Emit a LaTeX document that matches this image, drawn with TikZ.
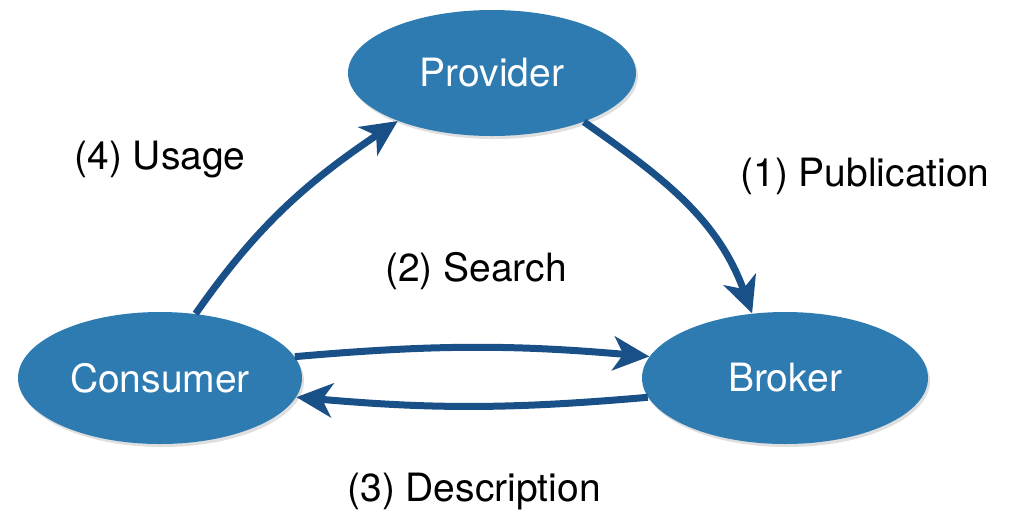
\documentclass[tikz,border=0pt]{standalone}
\usepackage{fontspec}
\setmainfont{TeX Gyre Heros}
\usetikzlibrary{arrows.meta,shapes.geometric,shadows}
\definecolor{nodeblue}{HTML}{2E7BB1}
\definecolor{arrowblue}{HTML}{1A5088}
\begin{document}
\begin{tikzpicture}[x=0.5pt, y=0.5pt,
    main/.style={ellipse, fill=nodeblue, text=white, inner sep=0pt,
        drop shadow={opacity=0.25, shadow xshift=1pt, shadow yshift=-1.5pt},
        font=\fontsize{19.5}{23}\selectfont},
    lbl/.style={font=\fontsize{19.5}{23}\selectfont},
    flow/.style={line width=3.5pt, draw=arrowblue,
        -{Stealth[length=18pt, width=17pt, inset=5pt]}}]
    \useasboundingbox (0, 0) rectangle (1016, 511);

    \node[main, minimum width=144pt, minimum height=63pt] at (492, 438) (P) {Provider};
    \node[main, minimum width=142pt, minimum height=66pt] at (160, 133) (C) {Consumer};
    \node[main, minimum width=143pt, minimum height=66pt] at (785, 133) (B) {Broker};

    \node[lbl] at (160, 351) (usage) {(4) Usage};
    \node[lbl] at (865, 335) (pub) {(1) Publication};
    \node[lbl] at (476, 240) (search) {(2) Search};
    \node[lbl] at (474, 19) (desc) {(3) Description};

    \draw[flow] (C.61) to [out=55, in=214] (P.207);
    \draw[flow] (P.332) to [out=-35, in=110] (B.117);
    \draw[flow] (C.9) to [out=5, in=175] (B.171);
    \draw[flow] (B.188) to [out=185, in=-5] (C.352);
\end{tikzpicture}
\end{document}
